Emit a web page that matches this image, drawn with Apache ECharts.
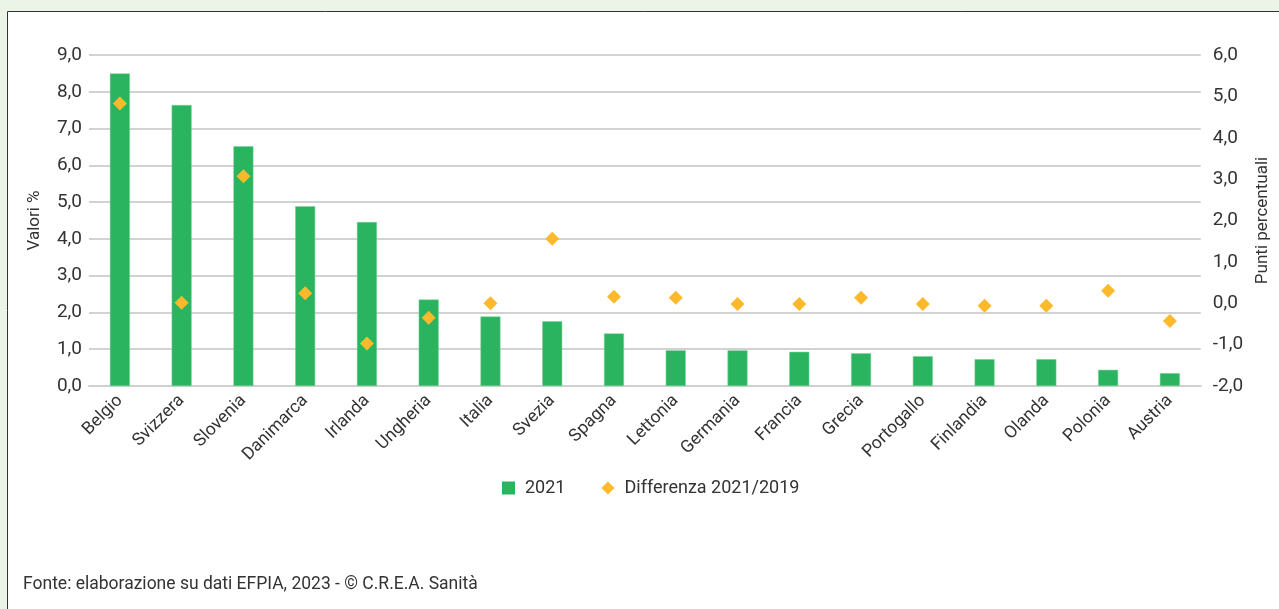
<!DOCTYPE html>
<html>
<head>
<meta charset="utf-8">
<script src="https://cdn.jsdelivr.net/npm/echarts@6/dist/echarts.min.js"></script>
<style>
html,body{margin:0;padding:0;background:#ecf3e7;}
#c{width:1279px;height:609px;}
</style>
</head>
<body>
<div id="c"></div>
<script>
const categories = ["Belgio","Svizzera","Slovenia","Danimarca","Irlanda","Ungheria","Italia","Svezia","Spagna","Lettonia","Germania","Francia","Grecia","Portogallo","Finlandia","Olanda","Polonia","Austria"];
const values2021 = [8.50,7.64,6.52,4.89,4.46,2.35,1.89,1.76,1.43,0.97,0.97,0.93,0.89,0.81,0.73,0.73,0.44,0.35];
const diff2021_2019 = [4.83,0.01,3.07,0.24,-0.97,-0.35,0.0,1.56,0.16,0.13,-0.02,-0.02,0.13,-0.02,-0.06,-0.06,0.30,-0.43];
const leftTicks = {min:0,max:9,interval:1};
const rightTicks = {min:-2,max:6,interval:1};

const FONT = 'Roboto,"Liberation Sans",Arial,sans-serif';
const chart = echarts.init(document.getElementById('c'), null, {renderer:'canvas'});
const fmt = v => v.toFixed(1).replace('.', ',');
chart.setOption({
  backgroundColor:'#ecf3e7',
  animation:false,
  textStyle:{fontFamily:FONT},
  graphic:[
    {type:'rect', z:-10, silent:true, shape:{x:7.5,y:11.5,width:1300,height:700},
     style:{fill:'#ffffff',stroke:'#333333',lineWidth:1}},
    {type:'text', left:23, top:576, style:{text:'Fonte: elaborazione su dati EFPIA, 2023 - © C.R.E.A. Sanità', font:'17.5px '+FONT, fill:'#333333'}}
  ],
  grid:{left:89,right:72,top:55,bottom:223,containLabel:false},
  legend:{
    top:474, left:497, itemGap:36, itemWidth:13, itemHeight:13,
    textStyle:{fontFamily:FONT,fontSize:18,color:'#333',padding:[0,0,0,5]},
    itemStyle:{borderWidth:0},
    data:[{name:'2021',icon:'rect'},{name:'Differenza 2021/2019',icon:'diamond'}]
  },
  xAxis:{
    type:'category', data:categories,
    axisTick:{show:false},
    axisLine:{show:true,lineStyle:{color:'#d0d0d0',width:2}},
    axisLabel:{rotate:45,interval:0,fontFamily:FONT,fontSize:17.5,color:'#333',margin:12}
  },
  yAxis:[
    {type:'value', min:leftTicks.min, max:leftTicks.max, interval:leftTicks.interval,
     name:'Valori %', nameLocation:'middle', nameGap:46, nameRotate:90,
     nameTextStyle:{fontFamily:FONT,fontSize:17,color:'#333'},
     axisLine:{show:false}, axisTick:{show:false},
     axisLabel:{formatter:fmt,fontFamily:FONT,fontSize:19,color:'#333',margin:7},
     splitLine:{lineStyle:{color:'#d2d2d2',width:2}}},
    {type:'value', min:rightTicks.min, max:rightTicks.max, interval:rightTicks.interval,
     position:'right',
     name:'Punti percentuali', nameLocation:'middle', nameGap:50, nameRotate:90,
     nameTextStyle:{fontFamily:FONT,fontSize:17,color:'#333'},
     axisLine:{show:false}, axisTick:{show:false},
     axisLabel:{formatter:fmt,fontFamily:FONT,fontSize:19,color:'#333',margin:12},
     splitLine:{show:false}}
  ],
  series:[
    {name:'2021', type:'bar', data:values2021, barWidth:20, yAxisIndex:0,
     itemStyle:{color:'#2bb45f',borderColor:'#7fd39c',borderWidth:0.5}, z:2},
    {name:'Differenza 2021/2019', type:'scatter', data:diff2021_2019, yAxisIndex:1,
     symbol:'diamond', symbolSize:[14,14],
     itemStyle:{color:'#fcb92b',opacity:1}, z:3}
  ]
});
</script>
</body>
</html>
